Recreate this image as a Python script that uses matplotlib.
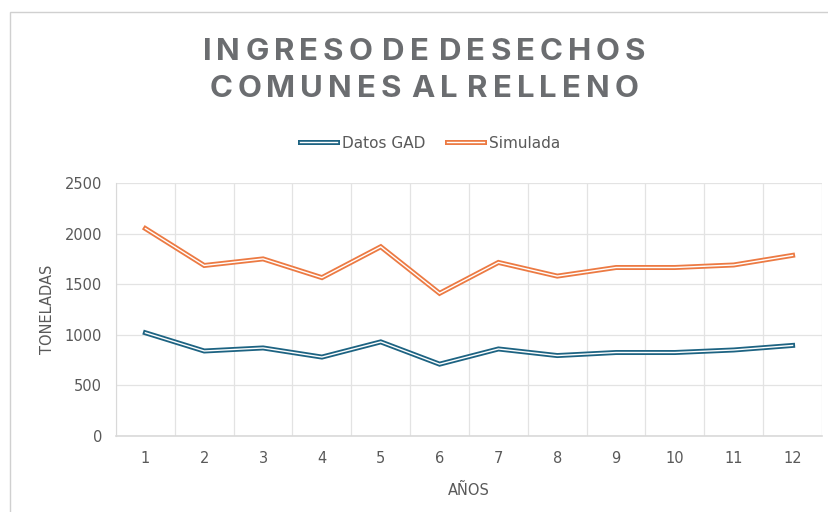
import matplotlib
matplotlib.use("Agg")
import matplotlib.pyplot as plt
import matplotlib.patches as mpatches
from matplotlib.legend_handler import HandlerTuple

anios = [1, 2, 3, 4, 5, 6, 7, 8, 9, 10, 11, 12]
datos_gad = [1020, 840, 870, 780, 930, 710, 860, 795, 825, 825, 850, 895]
simulada = [2050, 1685, 1750, 1565, 1870, 1410, 1715, 1580, 1665, 1665, 1690, 1785]
yticks = [0, 500, 1000, 1500, 2000, 2500]

W, H = 829, 512
blue = "#1d6382"
orange = "#ec7a43"
txt = "#595959"
grid_c = "#e3e3e3"
title_font = "Inter"

fig = plt.figure(figsize=(W / 100, H / 100), dpi=100)
fig.patch.set_facecolor("white")

# chart area border (only left / top are inside the picture)
fig.add_artist(mpatches.Rectangle((10.5 / W, -0.2), 1.2, 1.2 - 11.5 / H,
                                  transform=fig.transFigure, fill=False,
                                  edgecolor="#d0d0d0", lw=1.0))

ax = fig.add_axes([116 / W, 1 - 436 / H, (822 - 116) / W, (436 - 183) / H])

def double_line(x, y, color):
    a, = ax.plot(x, y, color=color, lw=3.6, solid_joinstyle="miter", zorder=3)
    b, = ax.plot(x, y, color="white", lw=1.0, solid_joinstyle="miter", zorder=4)
    return a, b

h1 = double_line(anios, datos_gad, blue)
h2 = double_line(anios, simulada, orange)

ax.set_xlim(0.5, 12.5)
ax.set_ylim(0, 2500)
ax.set_xticks(anios)
ax.set_yticks(yticks)
ax.set_xticks([i + 0.5 for i in range(0, 13)], minor=True)
ax.grid(False)
ax.grid(True, which="minor", axis="x", color=grid_c, lw=0.9)
ax.grid(True, which="major", axis="y", color=grid_c, lw=0.9)
ax.tick_params(axis="both", which="both", length=0, colors=txt, labelsize=10.5)
ax.tick_params(axis="x", pad=11)
ax.tick_params(axis="y", pad=10)
for s in ["top", "right"]:
    ax.spines[s].set_visible(False)
ax.spines["left"].set_color("#d9d9d9")
ax.spines["bottom"].set_color("#d9d9d9")
ax.spines["bottom"].set_linewidth(1.2)
ax.set_axisbelow(True)

ax.set_ylabel("TONELADAS", color=txt, fontsize=10.5, labelpad=7)
ax.set_xlabel("AÑOS", color=txt, fontsize=10.5, labelpad=12)

leg = fig.legend([h1, h2], ["Datos GAD", "Simulada"],
                 handler_map={tuple: HandlerTuple(ndivide=1, pad=0)},
                 loc="center", bbox_to_anchor=(430 / W, 1 - 143 / H),
                 ncol=2, frameon=False, fontsize=11, handlelength=2.45,
                 handletextpad=0.3, columnspacing=1.4, labelcolor=txt)

# title with letter spacing (letters placed one by one)
def spaced_text(line, xc, y_base, size, track, word_gap):
    r = fig.canvas.get_renderer()
    words = line.split(" ")
    widths = []
    for w in words:
        ws = []
        for ch in w:
            t = fig.text(0, 0, ch, fontsize=size, fontweight="bold", family=title_font)
            ws.append(t.get_window_extent(r).width)
            t.remove()
        widths.append(ws)
    total = sum(sum(ws) + track * (len(ws) - 1) for ws in widths) + word_gap * (len(words) - 1)
    x = xc - total / 2
    for w, ws in zip(words, widths):
        for ci, (ch, cw) in enumerate(zip(w, ws)):
            fig.text(x / W, 1 - y_base / H, ch, fontsize=size, fontweight="bold",
                     family=title_font, color="#6b6d70", ha="left", va="baseline")
            x += cw
            if ci < len(w) - 1:
                x += track
        x += word_gap

spaced_text("INGRESO DE DESECHOS", 424, 60, 22.5, 5, 10)
spaced_text("COMUNES AL RELLENO", 424, 97, 22.5, 5, 10)

fig.savefig("out.png", dpi=100, facecolor="white")
